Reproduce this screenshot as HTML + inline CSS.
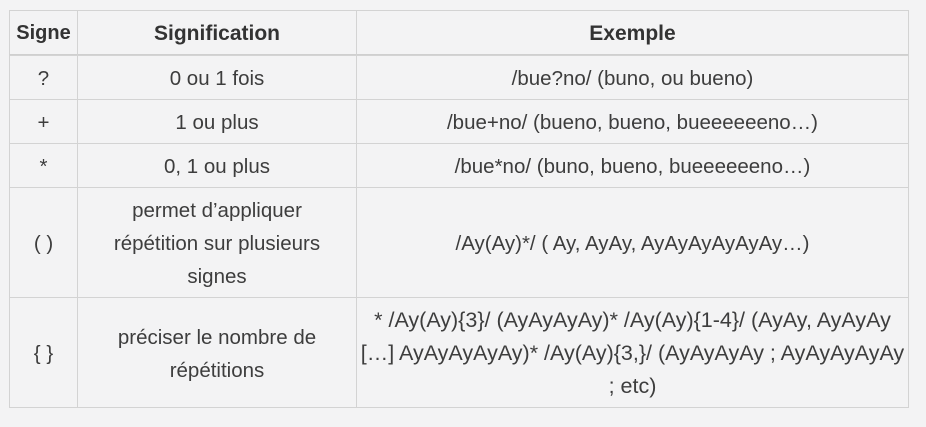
<!DOCTYPE html>
<html><head><meta charset="utf-8"><style>
body{margin:0;width:926px;height:427px;background:#f3f3f4;font-family:"Liberation Sans",sans-serif;color:#3d3d3d;overflow:hidden}
.c{position:absolute;box-sizing:border-box;border:1px solid #d3d3d3;display:flex;align-items:center;justify-content:center;text-align:center;font-size:20.5px;line-height:33px;padding:2px 2px 0;white-space:nowrap}
.h{font-weight:bold;color:#333}
</style></head><body>
<div class="c h" style="left:9px;top:10px;width:69px;height:46px;border-bottom:2px solid #cfcfcf;font-size:20px">Signe</div>
<div class="c h" style="left:77px;top:10px;width:280px;height:46px;border-bottom:2px solid #cfcfcf;font-size:21px">Signification</div>
<div class="c h" style="left:356px;top:10px;width:553px;height:46px;border-bottom:2px solid #cfcfcf;font-size:21px">Exemple</div>

<div class="c" style="left:9px;top:55px;width:69px;height:45px">?</div>
<div class="c" style="left:77px;top:55px;width:280px;height:45px">0 ou 1 fois</div>
<div class="c" style="left:356px;top:55px;width:553px;height:45px">/bue?no/ (buno, ou bueno)</div>

<div class="c" style="left:9px;top:99px;width:69px;height:45px">+</div>
<div class="c" style="left:77px;top:99px;width:280px;height:45px">1 ou plus</div>
<div class="c" style="left:356px;top:99px;width:553px;height:45px">/bue+no/ (bueno, bueno, bueeeeeeno…)</div>

<div class="c" style="left:9px;top:143px;width:69px;height:45px">*</div>
<div class="c" style="left:77px;top:143px;width:280px;height:45px">0, 1 ou plus</div>
<div class="c" style="left:356px;top:143px;width:553px;height:45px">/bue*no/ (buno, bueno, bueeeeeeno…)</div>

<div class="c" style="left:9px;top:187px;width:69px;height:111px">( )</div>
<div class="c" style="left:77px;top:187px;width:280px;height:111px">permet d’appliquer<br>répétition sur plusieurs<br>signes</div>
<div class="c" style="left:356px;top:187px;width:553px;height:111px">/Ay(Ay)*/ ( Ay, AyAy, AyAyAyAyAyAy…)</div>

<div class="c" style="left:9px;top:297px;width:69px;height:111px">{ }</div>
<div class="c" style="left:77px;top:297px;width:280px;height:111px">préciser le nombre de<br>répétitions</div>
<div class="c" style="left:356px;top:297px;width:553px;height:111px;font-size:21.5px">* /Ay(Ay){3}/ (AyAyAyAy)* /Ay(Ay){1-4}/ (AyAy, AyAyAy<br>[…] AyAyAyAyAy)* /Ay(Ay){3,}/ (AyAyAyAy ; AyAyAyAyAy<br>; etc)</div>
</body></html>
